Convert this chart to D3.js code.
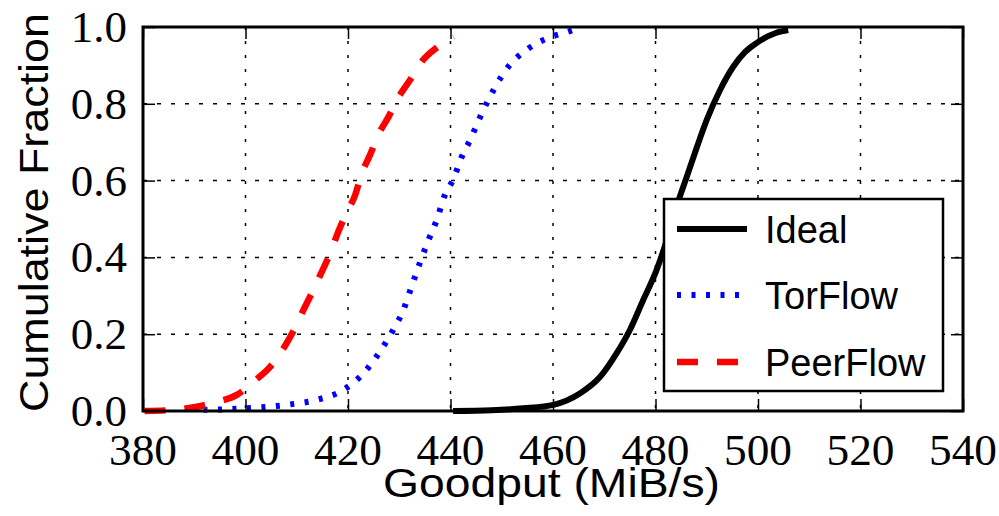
<!DOCTYPE html>
<html>
<head>
<meta charset="utf-8">
<script src="https://cdn.jsdelivr.net/npm/d3@7"></script>
<style>
  body { margin: 0; background: #fff; }
  .tick-label { font-family: "Liberation Serif", "Times New Roman", serif; font-size: 45px; fill: #000; }
  .axis-title { font-family: "Liberation Sans", Arial, sans-serif; font-size: 41px; fill: #000; }
  .legend-text { font-family: "Liberation Sans", Arial, sans-serif; font-size: 38px; fill: #000; }
</style>
</head>
<body>
<div id="chart"></div>
<script>
// Data (goodput MiB/s, cumulative fraction)
var idealX = [440.5, 448, 454.2, 460.1, 465.3, 469.2, 472.4, 475, 477.6, 480.2, 482.2, 484.1, 486.1, 488.1, 490, 492.6, 495.2, 497.5, 499.7, 503.6, 505.9];
var idealY = [0.0, 0.002, 0.007, 0.016, 0.046, 0.089, 0.15, 0.211, 0.289, 0.367, 0.445, 0.532, 0.61, 0.688, 0.758, 0.836, 0.897, 0.935, 0.958, 0.985, 0.992];

var torX = [391.8, 400.2, 408, 413.9, 419.1, 423, 426.2, 428.8, 430.8, 432.4, 434, 435.7, 437.3, 438.9, 440.5, 442.2, 443.8, 445.8, 448.4, 451.3, 455.2, 458.8, 463, 464.5];
var torY = [0.003, 0.007, 0.016, 0.029, 0.055, 0.098, 0.154, 0.211, 0.263, 0.324, 0.385, 0.445, 0.497, 0.5625, 0.602, 0.662, 0.705, 0.766, 0.836, 0.897, 0.944, 0.97, 0.988, 0.995];

var peerX = [380.3, 386, 390.5, 394.5, 398.3, 401.9, 404.8, 407.4, 409.3, 411.3, 412.9, 414.9, 416.5, 418.1, 419.7, 421.4, 422.7, 424.3, 425.9, 427.9, 429.9, 432.1, 434.4, 437.6, 440.5];
var peerY = [0.0, 0.003, 0.011, 0.024, 0.042, 0.08, 0.115, 0.163, 0.207, 0.263, 0.306, 0.363, 0.41, 0.467, 0.515, 0.5625, 0.619, 0.667, 0.719, 0.766, 0.818, 0.862, 0.91, 0.949, 0.975];

var xTicks = [380, 400, 420, 440, 460, 480, 500, 520, 540];
var yTicks = [0.0, 0.2, 0.4, 0.6, 0.8, 1.0];
var seriesNames = ["Ideal", "TorFlow", "PeerFlow"];

var svgWidth = 999;
var svgHeight = 516;

var margin = {
  top: 27,
  right: 36,
  bottom: 105,
  left: 143
};

var width = svgWidth - margin.left - margin.right;
var height = svgHeight - margin.top - margin.bottom;

var svg = d3.select("#chart")
  .append("svg")
  .attr("width", svgWidth)
  .attr("height", svgHeight);

var chartGroup = svg.append("g")
  .attr("transform", `translate(${margin.left}, ${margin.top})`);

// Step 1: scales
// ==============================
var xLinearScale = d3.scaleLinear().domain([380, 540]).range([0, width]);
var yLinearScale = d3.scaleLinear().domain([0, 1]).range([height, 0]);

// Step 2: grid (dotted)
// ==============================
chartGroup.append("g")
  .selectAll("line")
  .data(xTicks.slice(1, -1))
  .enter()
  .append("line")
  .attr("x1", d => xLinearScale(d))
  .attr("x2", d => xLinearScale(d))
  .attr("y1", 0)
  .attr("y2", height)
  .attr("stroke", "#000")
  .attr("stroke-width", 1.5)
  .attr("stroke-dasharray", "3,11");

chartGroup.append("g")
  .selectAll("line")
  .data(yTicks.slice(1, -1))
  .enter()
  .append("line")
  .attr("x1", 0)
  .attr("x2", width)
  .attr("y1", d => yLinearScale(d))
  .attr("y2", d => yLinearScale(d))
  .attr("stroke", "#000")
  .attr("stroke-width", 1.5)
  .attr("stroke-dasharray", "4,10");

// Step 3: axes with inward ticks on all sides
// ==============================
var tickLen = 12;
var bottomAxis = d3.axisBottom(xLinearScale).tickValues(xTicks).tickSize(-tickLen).tickFormat("");
var topAxis = d3.axisTop(xLinearScale).tickValues(xTicks).tickSize(-tickLen).tickFormat("");
var leftAxis = d3.axisLeft(yLinearScale).tickValues(yTicks).tickSize(-tickLen).tickFormat("");
var rightAxis = d3.axisRight(yLinearScale).tickValues(yTicks).tickSize(-tickLen).tickFormat("");

chartGroup.append("g").attr("transform", `translate(0,${height})`).call(bottomAxis);
chartGroup.append("g").call(topAxis);
chartGroup.append("g").call(leftAxis);
chartGroup.append("g").attr("transform", `translate(${width},0)`).call(rightAxis);

chartGroup.selectAll(".domain").remove();
chartGroup.selectAll(".tick line").attr("stroke", "#000").attr("stroke-width", 1.5);

// tick labels
chartGroup.append("g")
  .selectAll("text")
  .data(xTicks)
  .enter()
  .append("text")
  .attr("class", "tick-label")
  .attr("x", d => xLinearScale(d))
  .attr("y", height + 54)
  .attr("text-anchor", "middle")
  .attr("textLength", 68)
  .attr("lengthAdjust", "spacingAndGlyphs")
  .text(d => d);

chartGroup.append("g")
  .selectAll("text")
  .data(yTicks)
  .enter()
  .append("text")
  .attr("class", "tick-label")
  .attr("x", -16)
  .attr("y", d => yLinearScale(d) + 15)
  .attr("text-anchor", "end")
  .text(d => d.toFixed(1));

// Step 4: curves
// ==============================
var line = d3.line()
  .x(d => xLinearScale(d[0]))
  .y(d => yLinearScale(d[1]))
  .curve(d3.curveMonotoneX);

var styles = [
  { color: "#000", width: 6, dash: null },
  { color: "#0000ff", width: 6, dash: "4,10.5" },
  { color: "#ff0000", width: 6.5, dash: "21,19" }
];

var series = [
  d3.zip(idealX, idealY),
  d3.zip(torX, torY),
  d3.zip(peerX, peerY)
];

series.forEach(function(pts, i) {
  chartGroup.append("path")
    .datum(pts)
    .attr("fill", "none")
    .attr("stroke", styles[i].color)
    .attr("stroke-width", styles[i].width)
    .attr("stroke-dasharray", styles[i].dash)
    .attr("d", line);
});

// frame
chartGroup.append("rect")
  .attr("x", 0)
  .attr("y", 0)
  .attr("width", width)
  .attr("height", height)
  .attr("fill", "none")
  .attr("stroke", "#000")
  .attr("stroke-width", 3);

// Step 5: legend
// ==============================
var legend = svg.append("g");
legend.append("rect")
  .attr("x", 664)
  .attr("y", 199)
  .attr("width", 279)
  .attr("height", 192)
  .attr("fill", "#fff")
  .attr("stroke", "#000")
  .attr("stroke-width", 2.5);

var rowY = [229, 295, 362];
seriesNames.forEach(function(name, i) {
  legend.append("line")
    .attr("x1", 677)
    .attr("x2", 747)
    .attr("y1", rowY[i])
    .attr("y2", rowY[i])
    .attr("stroke", styles[i].color)
    .attr("stroke-width", styles[i].width)
    .attr("stroke-dasharray", styles[i].dash);
  legend.append("text")
    .attr("class", "legend-text")
    .attr("x", 765)
    .attr("y", rowY[i] + 14)
    .text(name);
});

// Step 6: axis titles
// ==============================
svg.append("text")
  .attr("class", "axis-title")
  .attr("x", 551.5)
  .attr("y", 497)
  .attr("text-anchor", "middle")
  .attr("textLength", 337)
  .attr("lengthAdjust", "spacingAndGlyphs")
  .text("Goodput (MiB/s)");

svg.append("text")
  .attr("class", "axis-title")
  .attr("transform", "translate(48, 212.5) rotate(-90)")
  .attr("text-anchor", "middle")
  .attr("textLength", 399)
  .attr("lengthAdjust", "spacingAndGlyphs")
  .text("Cumulative Fraction");
</script>
</body>
</html>
